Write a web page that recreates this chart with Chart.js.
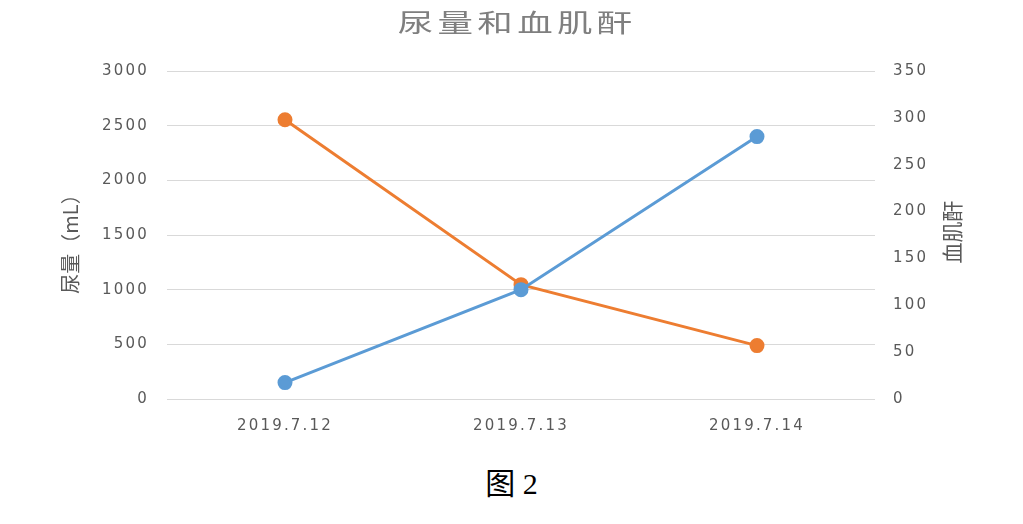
<!DOCTYPE html>
<html>
<head>
<meta charset="utf-8">
<script src="https://cdn.jsdelivr.net/npm/chart.js@4/dist/chart.umd.min.js"></script>
<style>
    body { margin: 0; background: #fff; }
    #box { position: relative; width: 1023px; height: 451px; }
    #caption {
        position: absolute; left: 0; top: 459px; width: 1023px;
        text-align: center; font-family: 'Liberation Serif', 'Noto Sans CJK SC', serif;
        font-size: 30px; color: #000;
    }
</style>
</head>
<body>
<div id="box"><canvas id="grafico"></canvas></div>
<div id="caption">图 2</div>
<script>
const datas = ['2019.7.12', '2019.7.13', '2019.7.14'];
const urina = [150, 1000, 2400];
const creatinina = [298, 122, 57];

const fonteCJK = "'Noto Sans CJK SC', 'DejaVu Sans', sans-serif";
const fonteNum = "'DejaVu Sans', sans-serif";

// a imagem original e meio esticada na horizontal, entao os textos ganham espacamento
const espacamento = {
    id: 'espacamento',
    beforeDraw(chart) { chart.ctx.letterSpacing = '2.2px'; },
    afterDraw(chart) { chart.ctx.letterSpacing = '0px'; }
};

// titulo e titulos dos eixos desenhados na mao
const titulos = {
    id: 'titulos',
    afterDraw(chart) {
        const ctx = chart.ctx;
        const area = chart.chartArea;
        const meio = (area.top + area.bottom) / 2;
        ctx.save();
        ctx.textAlign = 'center';
        ctx.textBaseline = 'middle';

        ctx.save();
        ctx.letterSpacing = '3px';
        ctx.font = '25px ' + fonteCJK;
        ctx.fillStyle = '#7f7f7f';
        ctx.translate(515, 22);
        ctx.scale(1.42, 1);
        ctx.fillText('尿量和血肌酐', 1.5, 0);
        ctx.restore();

        ctx.letterSpacing = '0px';
        ctx.font = '20px ' + fonteCJK;
        ctx.fillStyle = '#595959';

        ctx.save();
        ctx.translate(70, meio + 4);
        ctx.rotate(-Math.PI / 2);
        ctx.fillText('尿量（mL）', 0, 0);
        ctx.restore();

        ctx.font = '21px ' + fonteCJK;
        ctx.translate(952, meio - 3);
        ctx.rotate(-Math.PI / 2);
        ctx.fillText('血肌酐', 0, 0);
        ctx.restore();
    }
};

new Chart(document.getElementById('grafico'), {
    type: 'line',
    data: {
        labels: datas,
        datasets: [
            {
                label: '尿量',
                data: urina,
                yAxisID: 'y',
                borderColor: '#5B9BD5',
                backgroundColor: '#5B9BD5',
                borderWidth: 3,
                pointRadius: 6,
                tension: 0
            },
            {
                label: '血肌酐',
                data: creatinina,
                yAxisID: 'y2',
                borderColor: '#ED7D31',
                backgroundColor: '#ED7D31',
                borderWidth: 3,
                pointRadius: 6,
                tension: 0
            }
        ]
    },
    options: {
        responsive: true,
        maintainAspectRatio: false,
        animation: false,
        layout: { padding: { top: 71, bottom: 6, left: 0, right: 0 } },
        plugins: {
            legend: { display: false },
            tooltip: { enabled: false },
            title: { display: false }
        },
        scales: {
            x: {
                offset: true,
                grid: { display: false },
                border: { display: false },
                ticks: {
                    color: '#595959',
                    font: { family: fonteNum, size: 15 },
                    padding: 10
                }
            },
            y: {
                position: 'left',
                min: 0,
                max: 3000,
                ticks: {
                    stepSize: 500,
                    color: '#595959',
                    font: { family: fonteNum, size: 15 },
                    padding: 18,
                    callback: (v) => String(v)
                },
                grid: { color: '#d9d9d9', drawTicks: false },
                border: { display: false },
                afterFit(scale) { scale.width = 167; }
            },
            y2: {
                position: 'right',
                min: 0,
                max: 350,
                ticks: {
                    stepSize: 50,
                    color: '#595959',
                    font: { family: fonteNum, size: 15 },
                    padding: 18,
                    callback: (v) => String(v)
                },
                grid: { drawOnChartArea: false, drawTicks: false },
                border: { display: false },
                afterFit(scale) { scale.width = 148; }
            }
        }
    },
    plugins: [espacamento, titulos]
});
</script>
</body>
</html>
